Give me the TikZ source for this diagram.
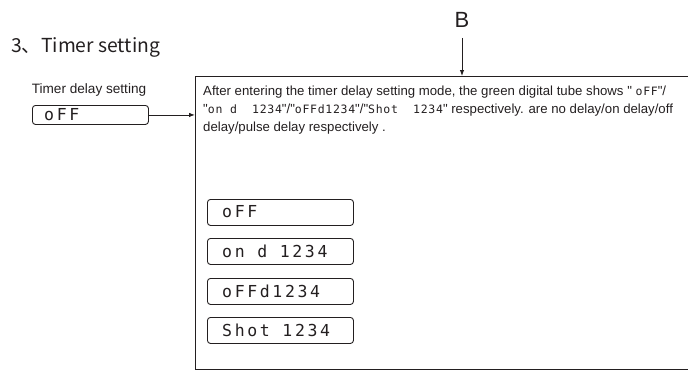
\documentclass[tikz,border=0pt]{standalone}
\usepackage{fontspec}
\setmainfont{Liberation Sans}
\newfontfamily\cjkf{Noto Sans CJK SC}
\newfontfamily\segf[LetterSpace=16]{DejaVu Sans Mono}
\newfontfamily\segsmall[LetterSpace=6]{DejaVu Sans Mono}
\usetikzlibrary{arrows.meta}
\definecolor{ink}{HTML}{231F20}
\newcommand{\qq}{\textquotedbl}
\newcommand{\segin}[1]{{\segsmall\fontsize{11.5}{11.5}\selectfont #1}}
\tikzset{
  x=1pt, y=-1pt,
  disp/.style={draw=ink, line width=0.9pt, rounded corners=3pt, minimum height=20pt, inner sep=0pt, anchor=north west},
  segtext/.style={text=ink, font=\segf\fontsize{16.5}{16.5}\selectfont, anchor=west, inner sep=0pt},
  conn/.style={draw=ink, line width=0.9pt, -{Latex[length=6pt,width=4.5pt]}},
  frame/.style={draw=ink, line width=0.9pt, inner sep=0pt, anchor=north west},
}
\begin{document}
\begin{tikzpicture}
\useasboundingbox (0,0) rectangle (688,372);
% title
\node[anchor=west, inner sep=0pt, text=ink, font=\cjkf\fontsize{19.3}{19.3}\selectfont] (title) at (11,47) {3、Timer setting};
\node[anchor=center, inner sep=0pt, text=ink, font=\fontsize{13.6}{13.6}\selectfont] (lbl) at (89,90) {Timer delay setting};
% left display
\node[disp, minimum width=116pt, minimum height=19pt] (ldisp) at (32,105) {};
\node[segtext] (ltxt) at (44,114.5) {oFF};
% big frame
\node[frame, minimum width=520pt, minimum height=293pt] (big) at (195,76) {};
% B
\node[inner sep=0pt, text=ink, font=\fontsize{22}{22}\selectfont] (B) at (462,20) {B};
\draw[conn] (B.south) ++(0,10) coordinate (Bs) (Bs) -- (Bs |- big.north);
\draw[conn] (ldisp.east) -- (ldisp.east -| big.west);
% paragraph
\node[anchor=north west, inner sep=0pt, text=ink, align=left, font=\fontsize{13.2}{18}\selectfont] (para) at (203,86)
 {After entering the timer delay setting mode, the green digital tube shows \qq\ \segin{oFF}\qq/\\
 \qq\segin{on d\ \ 1234}\qq/\qq\segin{oFFd1234}\qq/\qq\segin{Shot\ \ 1234}\qq\ respectively. are no delay/on delay/off\\
 delay/pulse delay respectively .};
% displays
\node[disp, minimum width=146pt, minimum height=26pt] (d1) at (207,199) {};
\node[disp, minimum width=146pt, minimum height=26pt] (d2) at (207,238) {};
\node[disp, minimum width=146pt, minimum height=26pt] (d3) at (207,278) {};
\node[disp, minimum width=146pt, minimum height=26pt] (d4) at (207,317) {};
\node[segtext] (t1) at (222,212) {oFF};
\node[segtext] (t2) at (222,251) {on d 1234};
\node[segtext] (t3) at (222,291) {oFFd1234};
\node[segtext] (t4) at (222,330) {Shot 1234};
\end{tikzpicture}
\end{document}
